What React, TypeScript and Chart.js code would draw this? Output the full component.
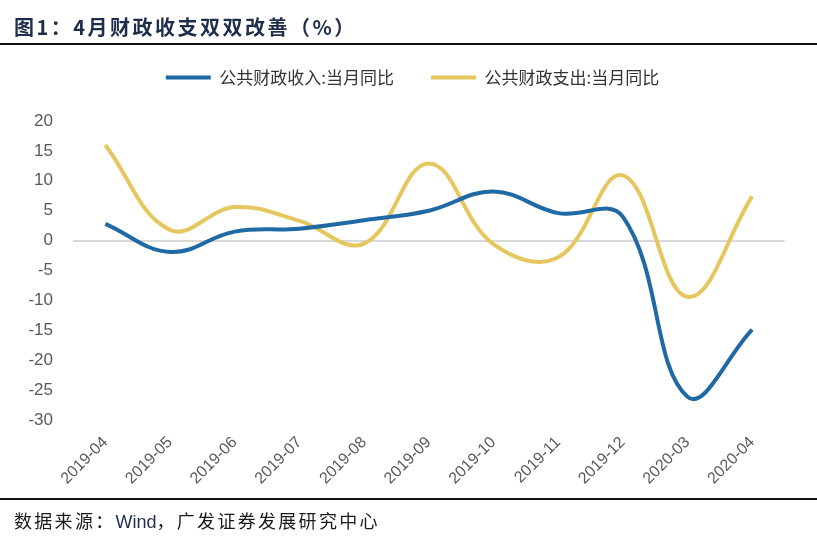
import React, { useEffect, useRef } from "react";
import { Chart, registerables } from "chart.js";

Chart.register(...registerables);

const categories = ["2019-04", "2019-05", "2019-06", "2019-07", "2019-08", "2019-09", "2019-10", "2019-11", "2019-12", "2020-03", "2020-04"];
const revenueYoY = [2.8, -1.9, 1.5, 2.0, 3.4, 5.0, 8.2, 4.6, 4.0, -26.1, -14.9];
const expenditureYoY = [16.0, 1.8, 5.6, 3.3, -0.5, 12.9, -0.6, -2.8, 10.9, -9.4, 7.4];
const seriesNames = ["公共财政收入:当月同比", "公共财政支出:当月同比"];
const titleText = "图1：4月财政收支双双改善（%）";
const sourcePrefix = "数据来源：";
const sourceWind = "Wind";
const sourceSuffix = "，广发证券发展研究中心";

const BLUE = "#1f69a5";
const YELLOW = "#e6c75f";

export default function App() {
  const ref = useRef<HTMLCanvasElement | null>(null);
  useEffect(() => {
    if (!ref.current) return;
    const legendMargin = {
      id: "legendMargin",
      beforeInit(chart: any) {
        const orig = chart.legend.fit;
        chart.legend.fit = function fit() {
          orig.bind(chart.legend)();
          this.height += 25;
        };
      },
    };
    const chart = new Chart(ref.current, {
      type: "line",
      data: {
        labels: categories,
        datasets: [
          { label: seriesNames[0], data: revenueYoY, borderColor: BLUE, backgroundColor: BLUE, borderWidth: 4, pointRadius: 0, tension: 0.4, fill: false },
          { label: seriesNames[1], data: expenditureYoY, borderColor: YELLOW, backgroundColor: YELLOW, borderWidth: 4, pointRadius: 0, tension: 0.4, fill: false },
        ],
      },
      options: {
        animation: false,
        responsive: false,
        maintainAspectRatio: false,
        layout: { padding: { top: 32, left: 8, right: 0, bottom: 0 } },
        plugins: {
          title: { display: false },
          tooltip: { enabled: false },
          legend: {
            position: "top",
            labels: {
              usePointStyle: true,
              pointStyle: "line",
              pointStyleWidth: 45,
              padding: 37,
              color: "#333333",
              font: { family: "'Noto Sans CJK SC', sans-serif", size: 17 },
            },
          },
        },
        scales: {
          x: {
            offset: true,
            grid: { display: false, drawTicks: false },
            border: { display: false },
            ticks: {
              minRotation: 45,
              maxRotation: 45,
              padding: 13,
              color: "#595959",
              font: { family: "'Liberation Sans', Arial, sans-serif", size: 16 },
            },
            afterFit(scale: any) {
              scale.height = 125;
            },
          },
          y: {
            min: -30,
            max: 20,
            ticks: {
              stepSize: 5,
              padding: 20,
              color: "#595959",
              font: { family: "'Liberation Sans', Arial, sans-serif", size: 17 },
            },
            grid: {
              drawTicks: false,
              lineWidth: 2,
              color: (ctx: any) => (ctx.tick && ctx.tick.value === 0 ? "#d9d9d9" : "rgba(0,0,0,0)"),
            },
            border: { display: false },
            afterFit(scale: any) {
              scale.width = 65;
            },
          },
          yRightSpace: {
            position: "right",
            min: -30,
            max: 20,
            grid: { display: false, drawTicks: false },
            border: { display: false },
            ticks: { display: false },
            afterFit(scale: any) {
              scale.width = 32.5;
            },
          },
        },
      },
      plugins: [legendMargin],
    });
    return () => chart.destroy();
  }, []);

  return (
    <div style={{ position: "absolute", left: 0, top: 0, width: 817, height: 545, background: "#ffffff", overflow: "hidden" }}>
      <canvas ref={ref} width={817} height={545} style={{ position: "absolute", left: 0, top: 0, width: 817, height: 545 }} />
      <div
        style={{
          position: "absolute",
          left: 14,
          top: 13,
          fontFamily: "'Noto Sans CJK SC', sans-serif",
          fontWeight: 700,
          fontSize: 20,
          letterSpacing: 2.5,
          lineHeight: "28px",
          color: "#1f2d4d",
          whiteSpace: "nowrap",
        }}
      >
        {titleText}
      </div>
      <div style={{ position: "absolute", left: 0, top: 43, width: 817, height: 2, background: "#111111" }} />
      <div style={{ position: "absolute", left: 0, top: 498, width: 817, height: 2, background: "#111111" }} />
      <div
        style={{
          position: "absolute",
          left: 14,
          top: 506,
          fontFamily: "'Noto Sans CJK SC', sans-serif",
          fontSize: 18,
          letterSpacing: 2.3,
          lineHeight: "28px",
          color: "#1a1a1a",
          whiteSpace: "nowrap",
        }}
      >
        {sourcePrefix}
        <span style={{ fontFamily: "'Liberation Sans', Arial, sans-serif", letterSpacing: 0, color: "#1f2d4d" }}>{sourceWind}</span>
        {sourceSuffix}
      </div>
    </div>
  );
}
